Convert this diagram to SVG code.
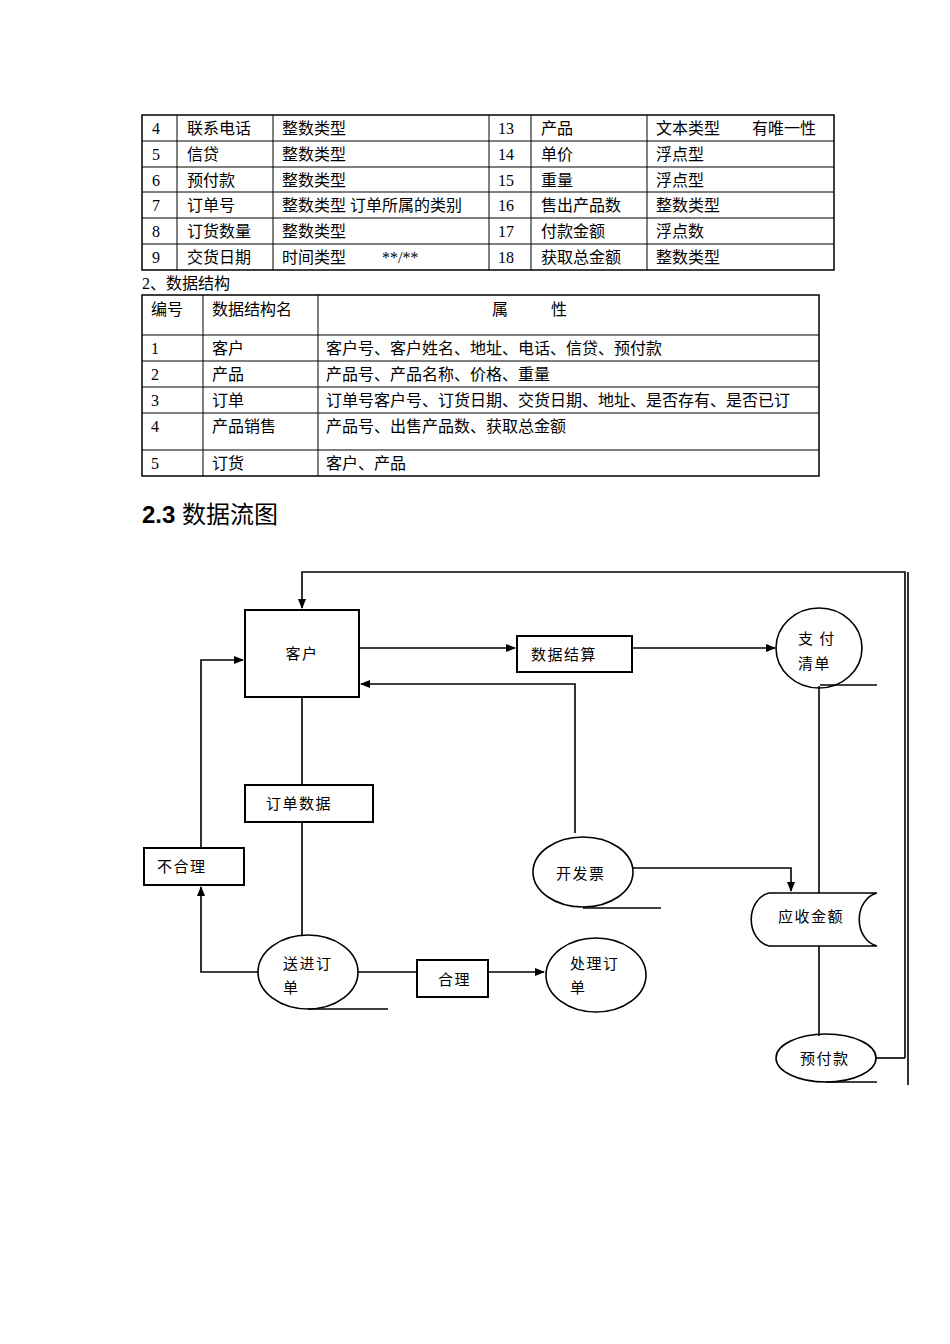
<svg xmlns="http://www.w3.org/2000/svg" width="950" height="1344" viewBox="0 0 950 1344">
<defs>
<marker id="ar" markerWidth="10" markerHeight="8" refX="9" refY="4" orient="auto" markerUnits="userSpaceOnUse"><path d="M0,0 L10,4 L0,8 Z" fill="#000"/></marker>
<style>
text{font-family:"Liberation Serif","Noto Sans CJK SC",serif;font-size:16px;fill:#000}
.t line{stroke:#000;stroke-width:1}
.b{fill:#fff;stroke:#000;stroke-width:2}
.c{fill:none;stroke:#000;stroke-width:1.6}
.ln{fill:none;stroke:#000;stroke-width:1.6}
.d{font-family:"Noto Sans CJK SC",sans-serif;font-size:15px;letter-spacing:1.5px}
</style>
</defs>
<rect width="950" height="1344" fill="#fff"/>
<g class="t" id="table1">
<rect x="142" y="115" width="692" height="155" fill="none" stroke="#000" stroke-width="1.5"/>
<line x1="142" y1="141" x2="834" y2="141"/><line x1="142" y1="167" x2="834" y2="167"/><line x1="142" y1="192" x2="834" y2="192"/><line x1="142" y1="218" x2="834" y2="218"/><line x1="142" y1="244" x2="834" y2="244"/>
<line x1="177" y1="115" x2="177" y2="270"/><line x1="273" y1="115" x2="273" y2="270"/><line x1="489" y1="115" x2="489" y2="270"/><line x1="531" y1="115" x2="531" y2="270"/><line x1="647" y1="115" x2="647" y2="270"/>
<text x="152" y="134">4</text><text x="187" y="134">联系电话</text><text x="282" y="134">整数类型</text><text x="498" y="134">13</text><text x="541" y="134">产品</text><text x="656" y="134">文本类型　　有唯一性</text>
<text x="152" y="160">5</text><text x="187" y="160">信贷</text><text x="282" y="160">整数类型</text><text x="498" y="160">14</text><text x="541" y="160">单价</text><text x="656" y="160">浮点型</text>
<text x="152" y="186">6</text><text x="187" y="186">预付款</text><text x="282" y="186">整数类型</text><text x="498" y="186">15</text><text x="541" y="186">重量</text><text x="656" y="186">浮点型</text>
<text x="152" y="211">7</text><text x="187" y="211">订单号</text><text x="282" y="211">整数类型  订单所属的类别</text><text x="498" y="211">16</text><text x="541" y="211">售出产品数</text><text x="656" y="211">整数类型</text>
<text x="152" y="237">8</text><text x="187" y="237">订货数量</text><text x="282" y="237">整数类型</text><text x="498" y="237">17</text><text x="541" y="237">付款金额</text><text x="656" y="237">浮点数</text>
<text x="152" y="263">9</text><text x="187" y="263">交货日期</text><text x="282" y="263">时间类型</text><text x="382" y="263" font-size="13">**/**</text><text x="498" y="263">18</text><text x="541" y="263">获取总金额</text><text x="656" y="263">整数类型</text>
</g>
<text x="142" y="289">2、数据结构</text>
<g class="t" id="table2">
<rect x="142" y="295" width="677" height="181" fill="none" stroke="#000" stroke-width="1.5"/>
<line x1="142" y1="335" x2="819" y2="335"/><line x1="142" y1="361" x2="819" y2="361"/><line x1="142" y1="387" x2="819" y2="387"/><line x1="142" y1="413" x2="819" y2="413"/><line x1="142" y1="450" x2="819" y2="450"/>
<line x1="203" y1="295" x2="203" y2="476"/><line x1="318" y1="295" x2="318" y2="476"/>
<text x="151" y="315">编号</text><text x="212" y="315">数据结构名</text><text x="492" y="315">属</text><text x="551" y="315">性</text>
<text x="151" y="354">1</text><text x="212" y="354">客户</text><text x="326" y="354">客户号、客户姓名、地址、电话、信贷、预付款</text>
<text x="151" y="380">2</text><text x="212" y="380">产品</text><text x="326" y="380">产品号、产品名称、价格、重量</text>
<text x="151" y="406">3</text><text x="212" y="406">订单</text><text x="326" y="406">订单号客户号、订货日期、交货日期、地址、是否存有、是否已订</text>
<text x="151" y="432">4</text><text x="212" y="432">产品销售</text><text x="326" y="432">产品号、出售产品数、获取总金额</text>
<text x="151" y="469">5</text><text x="212" y="469">订货</text><text x="326" y="469">客户、产品</text>
</g>
<text x="142" y="523" style="font-family:'Liberation Sans','Noto Sans CJK SC',sans-serif;font-size:24px;font-weight:bold">2.3 <tspan font-weight="normal">数据流图</tspan></text>
<g id="connectors">
<path class="ln" d="M905,1058 V572 H302 V608" marker-end="url(#ar)"/>
<line class="ln" x1="908" y1="572" x2="908" y2="1085"/>
<line class="ln" x1="359" y1="648" x2="515" y2="648" marker-end="url(#ar)"/>
<line class="ln" x1="632" y1="648" x2="775" y2="648" marker-end="url(#ar)"/>
<path class="ln" d="M575,833 V684 H361" marker-end="url(#ar)"/>
<line class="ln" x1="302" y1="697" x2="302" y2="785"/>
<line class="ln" x1="302" y1="822" x2="302" y2="935"/>
<path class="ln" d="M201,848 V660 H243" marker-end="url(#ar)"/>
<path class="ln" d="M258,972 H201 V887" marker-end="url(#ar)"/>
<line class="ln" x1="358" y1="972" x2="417" y2="972"/>
<line class="ln" x1="488" y1="972" x2="544" y2="972" marker-end="url(#ar)"/>
<path class="ln" d="M633,868 H791 V891" marker-end="url(#ar)"/>
<line class="ln" x1="819" y1="686" x2="819" y2="893"/>
<line class="ln" x1="819" y1="946" x2="819" y2="1036"/>
<line class="ln" x1="876" y1="1058" x2="905" y2="1058"/>
</g>
<g id="kehu"><rect class="b" x="245" y="610" width="114" height="87"/><text class="d" x="302" y="659" text-anchor="middle">客户</text></g>
<g id="shujujiesuan"><rect class="b" x="517" y="636" width="115" height="36" stroke-width="1.5"/><text class="d" x="531" y="660">数据结算</text></g>
<g id="zhifuqingdan"><ellipse class="c" cx="819" cy="648" rx="43" ry="40"/><line class="ln" x1="820" y1="685" x2="877" y2="685"/><text class="d" x="798" y="644">支 付</text><text class="d" x="798" y="669">清单</text></g>
<g id="dingdanshuju"><rect class="b" x="245" y="785" width="128" height="37" stroke-width="1.5"/><text class="d" x="266" y="809">订单数据</text></g>
<g id="buheli"><rect class="b" x="144" y="848" width="100" height="37"/><text class="d" x="157" y="872">不合理</text></g>
<g id="kaifapiao"><ellipse class="c" cx="583" cy="872" rx="50" ry="35"/><line class="ln" x1="583" y1="908" x2="661" y2="908"/><text class="d" x="556" y="879">开发票</text></g>
<g id="yingshoujine"><path class="c" d="M877,893 H769 A22,27 0 0 0 769,946 H877 A22,27 0 0 1 877,893 Z"/><text class="d" x="778" y="922">应收金额</text></g>
<g id="songjindingdan"><ellipse class="c" cx="308" cy="972" rx="50" ry="37"/><line class="ln" x1="308" y1="1009" x2="388" y2="1009"/><text class="d" x="283" y="969">送进订</text><text class="d" x="283" y="993">单</text></g>
<g id="heli"><rect class="b" x="417" y="960" width="71" height="37" stroke-width="1.5"/><text class="d" x="438" y="985">合理</text></g>
<g id="chulidingdan"><ellipse class="c" cx="596" cy="975" rx="50" ry="37"/><text class="d" x="570" y="969">处理订</text><text class="d" x="570" y="993">单</text></g>
<g id="yufukuan"><ellipse class="c" cx="826" cy="1058" rx="50" ry="24"/><line class="ln" x1="826" y1="1082" x2="877" y2="1082"/><text class="d" x="800" y="1064">预付款</text></g>
</svg>
